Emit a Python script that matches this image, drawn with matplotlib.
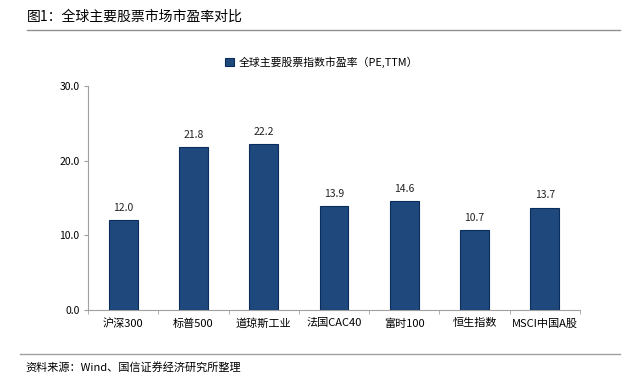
import numpy as np
import matplotlib.pyplot as plt

plt.rcParams['font.family'] = ['Noto Sans CJK SC', 'DejaVu Sans']

# 数据
categories = ['沪深300', '标普500', '道琼斯工业', '法国CAC40', '富时100', '恒生指数', 'MSCI中国A股']
pe_values = [12.0, 21.8, 22.2, 13.9, 14.6, 10.7, 13.7]
y_ticks = [0, 10, 20, 30]

fig = plt.figure(figsize=(6.33, 3.78), dpi=100)
W, H = 633, 378

# 坐标轴位置 (像素换算)
ax = fig.add_axes([88 / W, 1 - 310 / H, (580 - 88) / W, (310 - 86) / H])

x = np.arange(len(categories))
ax.bar(x, pe_values, width=0.41, color='#1F497D', edgecolor='#0B2D5E',
       linewidth=0.8, label='全球主要股票指数市盈率（PE,TTM）', zorder=3)

for xi, v in zip(x, pe_values):
    ax.text(xi, v + 1.0, f'{v:.1f}', ha='center', va='bottom', fontsize=7.5, color='#222222')

ax.set_xlim(-0.5, len(categories) - 0.5)
ax.set_ylim(0, 30)
ax.set_yticks(y_ticks)
ax.set_yticklabels([f'{t:.1f}' for t in y_ticks], fontsize=7.5)
ax.set_xticks(x)
ax.set_xticklabels(categories, fontsize=8)
ax.set_xticks(np.arange(len(categories) + 1) - 0.5, minor=True)
ax.tick_params(axis='x', which='major', length=0, pad=6)
ax.tick_params(axis='x', which='minor', length=3, color='#A0A0A0')
ax.tick_params(axis='y', length=3, color='#A0A0A0', pad=3)

for s in ['top', 'right']:
    ax.spines[s].set_visible(False)
for s in ['left', 'bottom']:
    ax.spines[s].set_color('#A0A0A0')

ax.legend(loc='upper center', bbox_to_anchor=(0.475, 1.175), frameon=False,
          fontsize=7.8, handlelength=0.8, handleheight=0.8, handletextpad=0.4)

# 标题与来源
fig.text(27 / W, 1 - 17 / H, '图1：全球主要股票市场市盈率对比', fontsize=10, va='center', ha='left')
fig.add_artist(plt.Line2D([27 / W, 620 / W], [1 - 30 / H, 1 - 30 / H], color='#909090', linewidth=1))
fig.add_artist(plt.Line2D([20 / W, 620 / W], [1 - 354 / H, 1 - 354 / H], color='#A0A0A0', linewidth=1))
fig.text(25 / W, 1 - 367 / H, '资料来源：Wind、国信证券经济研究所整理', fontsize=8, va='center', ha='left')

fig.savefig('out.png', dpi=100)
